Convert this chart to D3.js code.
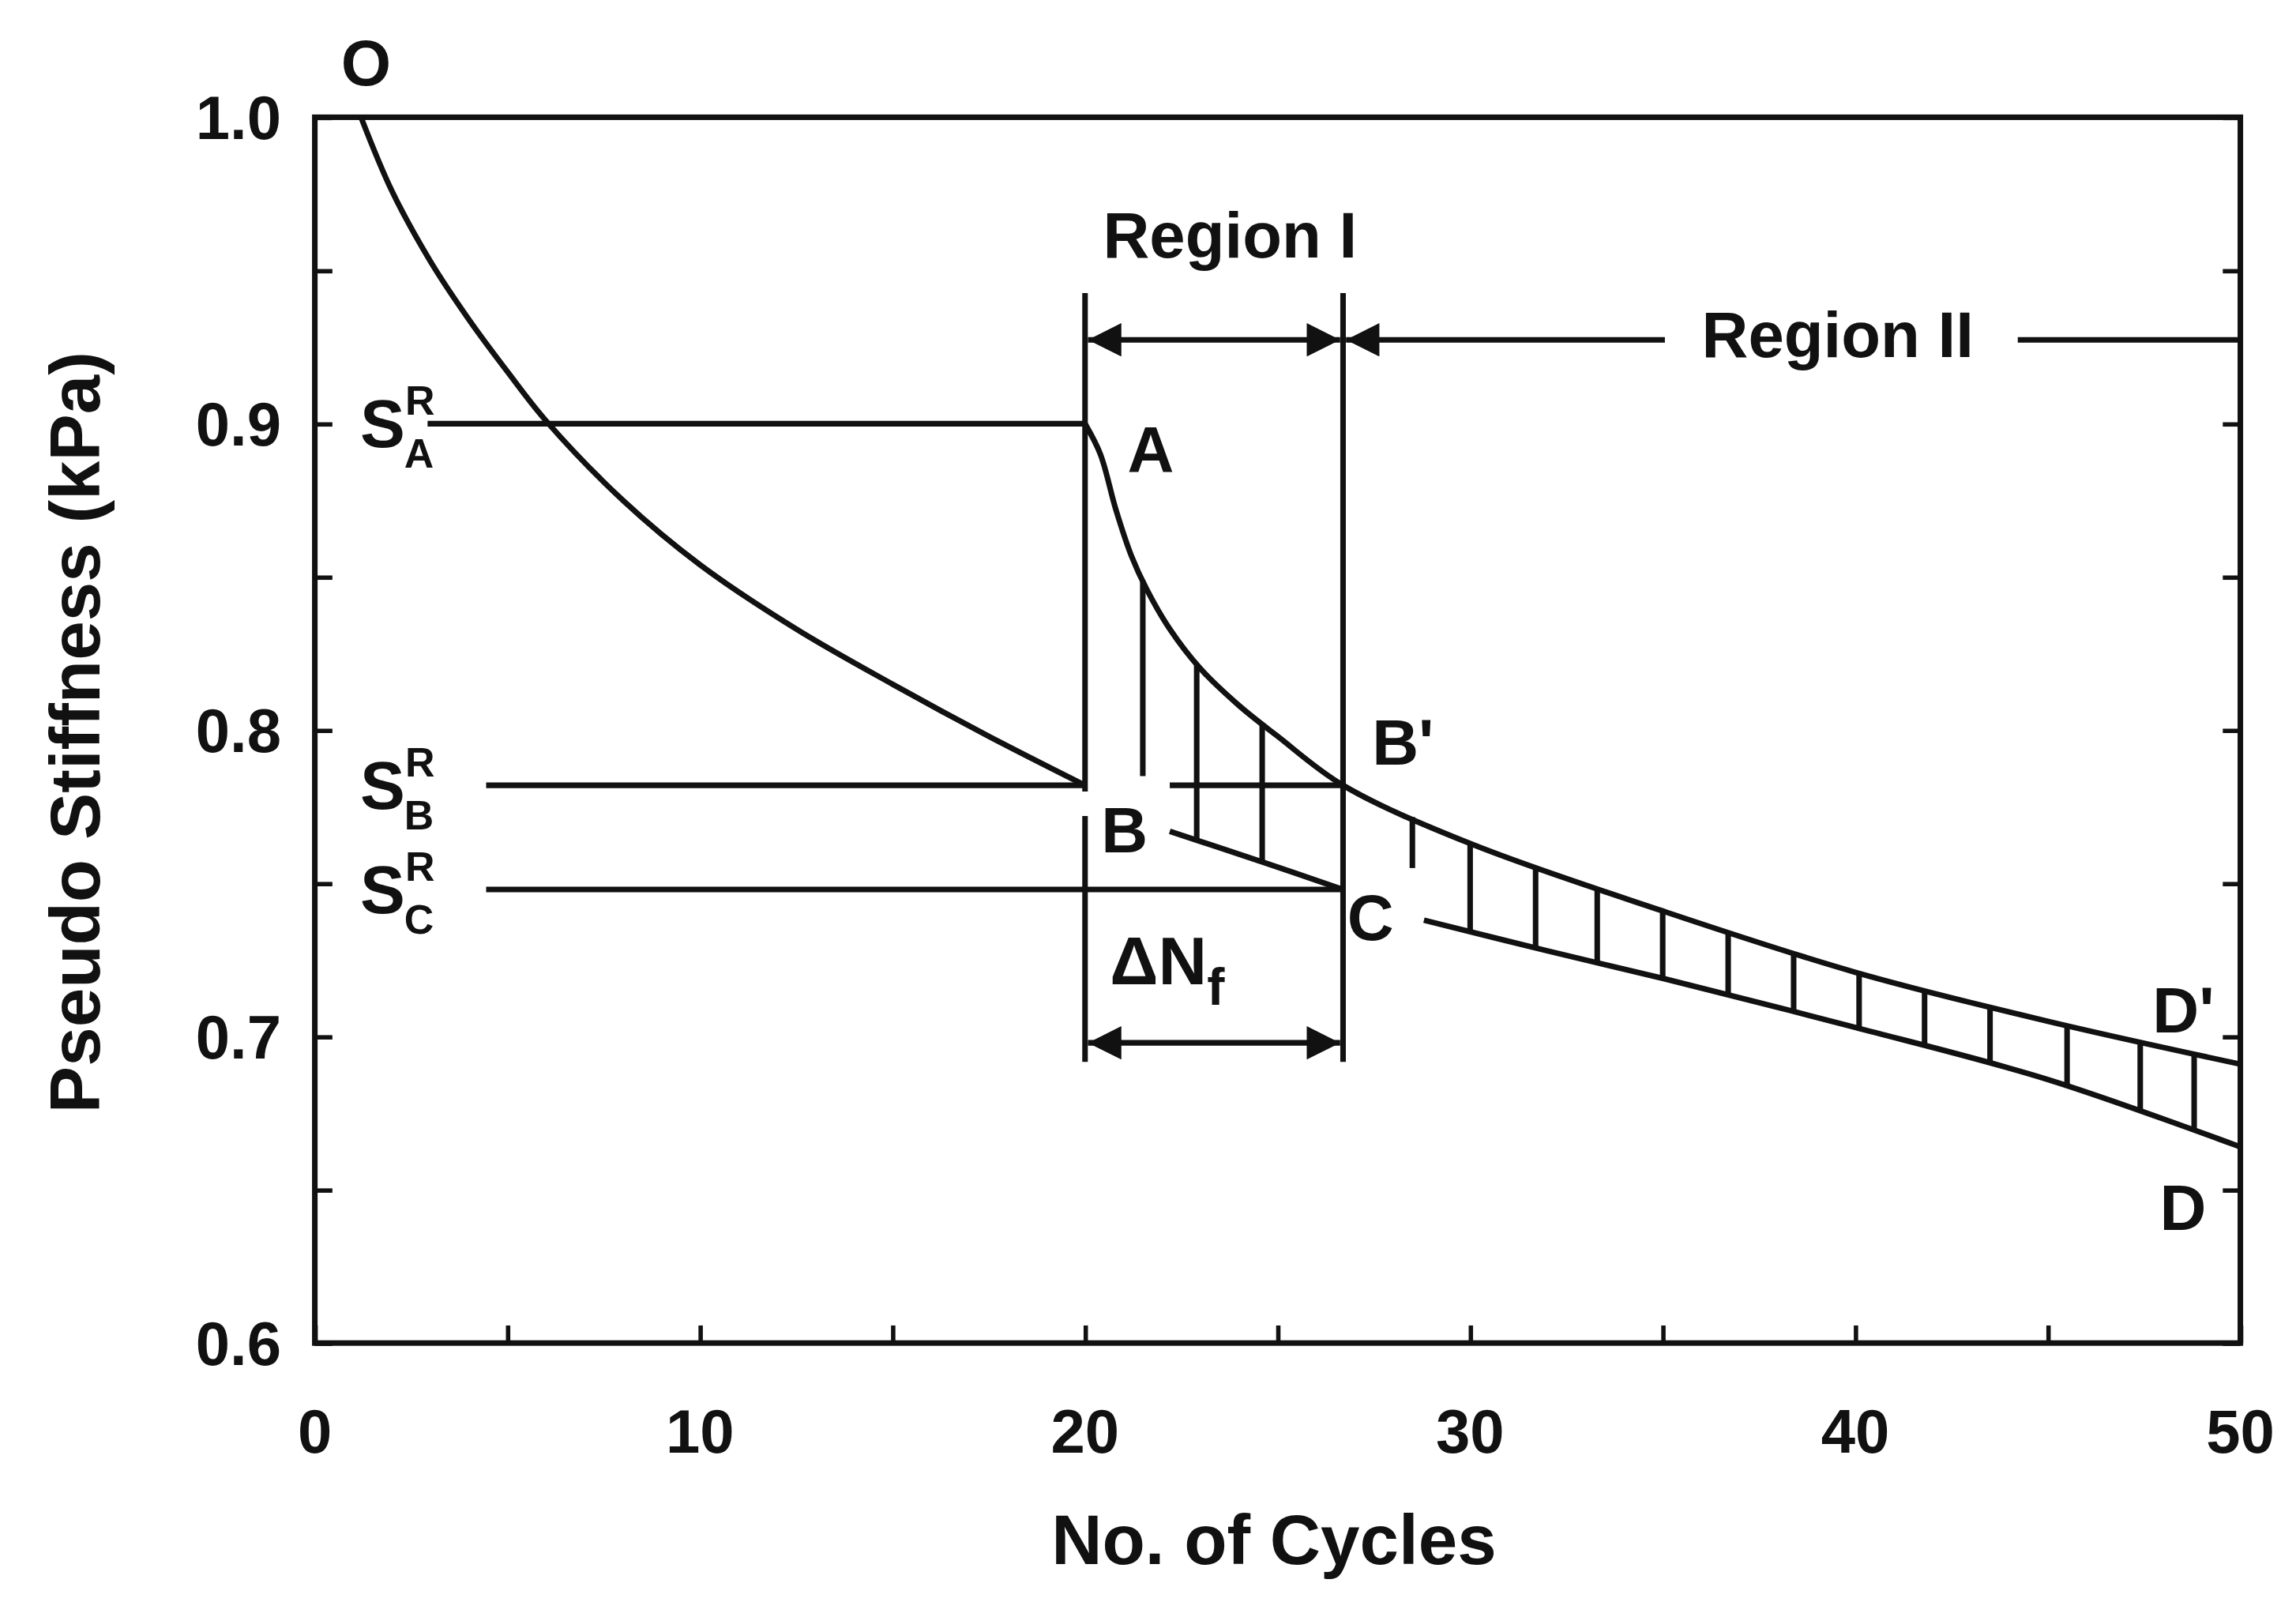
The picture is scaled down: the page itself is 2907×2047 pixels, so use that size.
<!DOCTYPE html>
<html><head><meta charset="utf-8">
<script src="https://cdn.jsdelivr.net/npm/d3@7"></script>
<style>body{margin:0;background:#fff}text{font-family:"Liberation Sans",Arial,sans-serif;font-weight:bold;fill:#111}</style>
</head><body><svg id="c" width="2907" height="2047" viewBox="0 0 1568 1104"></svg>
<script>
var mainCurve = [[1.2,1.0],[2,0.976],[3,0.953],[4,0.934],[5,0.917],[6,0.901],[8,0.875],[10,0.854],[12.5,0.833],[15,0.815],[17.5,0.798],[20,0.782]];
var upperCurve = [[20,0.9],[20.4,0.89],[20.8,0.872],[21.2,0.857],[21.6,0.846],[22.2,0.833],[23,0.82],[24,0.808],[25,0.798],[26.7,0.782],[30,0.763],[35,0.741],[40,0.721],[45,0.705],[50,0.691]];
var lowerB = [[22.2,0.767],[24.6,0.757],[26.7,0.748]];
var lowerC = [[28.8,0.738],[32,0.728],[35,0.719],[40,0.703],[45,0.686],[50,0.664]];
var hatchX = [22.9,24.6,30.0,31.7,33.3,35.0,36.7,38.4,40.1,41.8,43.5,45.5,47.4,48.8];
var xTicks = [0,10,20,30,40,50];
var yTicks = [0.6,0.7,0.8,0.9,1.0];
var sLevels = [["A",0.9],["B",0.782],["C",0.748]];

var svg = d3.select("#c");
var x = d3.scaleLinear().domain([0,50]).range([215,1530]);
var y = d3.scaleLinear().domain([0.6,1.0]).range([917,80]);
var line = d3.line().x(d=>x(d[0])).y(d=>y(d[1])).curve(d3.curveCatmullRom.alpha(0.5));
function at(arr, xv){ // y along a curve, for hatch ends
  for (var i=1;i<arr.length;i++) if (xv<=arr[i][0]){var a=arr[i-1],b=arr[i];return a[1]+(b[1]-a[1])*(xv-a[0])/(b[0]-a[0]);}
  return arr[arr.length-1][1];
}
var g = svg.append("g").attr("stroke","#111").attr("fill","none").attr("stroke-width",3.8);
g.append("rect").attr("x",215).attr("y",80).attr("width",1315).attr("height",837);

// ticks inward
svg.append("g").attr("transform","translate(0,917)").call(d3.axisBottom(x).tickValues(d3.range(0,51,5)).tickSizeInner(-12).tickSizeOuter(0).tickFormat(""));
svg.append("g").attr("transform","translate(215,0)").call(d3.axisLeft(y).tickValues(d3.range(0.6,1.001,0.05)).tickSizeInner(-12).tickSizeOuter(0).tickFormat(""));
svg.append("g").attr("transform","translate(1530,0)").call(d3.axisRight(y).tickValues(d3.range(0.6,1.001,0.05)).tickSizeInner(-12).tickSizeOuter(0).tickFormat(""));
svg.selectAll(".domain").remove();
svg.selectAll(".tick line").attr("stroke","#111").attr("stroke-width",3);

svg.selectAll(".xl").data(xTicks).join("text").attr("x",d=>x(d)).attr("y",992).attr("text-anchor","middle").attr("font-size",42).text(d=>d);
svg.selectAll(".yl").data(yTicks).join("text").attr("x",192).attr("y",d=>y(d)+15).attr("text-anchor","end").attr("font-size",42).text(d=>d.toFixed(1));
svg.append("text").attr("x",870).attr("y",1068).attr("text-anchor","middle").attr("font-size",48).text("No. of Cycles");
svg.append("text").attr("transform","translate(68,500) rotate(-90)").attr("text-anchor","middle").attr("font-size",48).text("Pseudo Stiffness (kPa)");

g.append("path").attr("d",line(mainCurve));
g.append("path").attr("d",line(upperCurve));
g.append("path").attr("d",line(lowerB));
g.append("path").attr("d",line(lowerC));

// horizontal reference lines
g.append("line").attr("x1",292).attr("x2",x(20)).attr("y1",y(0.9)).attr("y2",y(0.9));
g.append("line").attr("x1",332).attr("x2",x(20)).attr("y1",y(0.782)).attr("y2",y(0.782));
g.append("line").attr("x1",x(22.2)).attr("x2",x(26.7)).attr("y1",y(0.782)).attr("y2",y(0.782));
g.append("line").attr("x1",332).attr("x2",x(26.7)).attr("y1",y(0.748)).attr("y2",y(0.748));

// vertical boundaries
g.append("line").attr("x1",x(20)).attr("x2",x(20)).attr("y1",200).attr("y2",y(0.78));
g.append("line").attr("x1",x(20)).attr("x2",x(20)).attr("y1",y(0.772)).attr("y2",725);
g.append("line").attr("x1",x(26.7)).attr("x2",x(26.7)).attr("y1",200).attr("y2",725);

// hatch
g.append("line").attr("x1",x(21.5)).attr("x2",x(21.5)).attr("y1",y(at(upperCurve,21.5))).attr("y2",y(0.785));
g.append("line").attr("x1",x(28.5)).attr("x2",x(28.5)).attr("y1",y(at(upperCurve,28.5))).attr("y2",y(0.755));
hatchX.forEach(function(h){
  var low = h<27 ? lowerB : lowerC;
  g.append("line").attr("x1",x(h)).attr("x2",x(h)).attr("y1",y(at(upperCurve,h))).attr("y2",y(at(low,h)));
});

// arrows
var defs = svg.append("defs");
defs.append("marker").attr("id","ah").attr("viewBox","0 0 10 10").attr("refX",10).attr("refY",5)
  .attr("markerWidth",7).attr("markerHeight",6).attr("markerUnits","strokeWidth").attr("orient","auto-start-reverse")
  .append("path").attr("d","M0,0L10,5L0,10Z").attr("fill","#111").attr("stroke","none");
function arrow(x1,x2,yy,s,e){var l=g.append("line").attr("x1",x1).attr("x2",x2).attr("y1",yy).attr("y2",yy);
  if(s)l.attr("marker-start","url(#ah)"); if(e)l.attr("marker-end","url(#ah)");}
arrow(x(20)+2,x(26.7)-2,232,true,true);
arrow(x(26.7)+2,1137,232,true,false);
arrow(1378,1530,232,false,false);
arrow(x(20)+2,x(26.7)-2,712,true,true);

svg.append("text").attr("x",840).attr("y",176).attr("text-anchor","middle").attr("font-size",44).text("Region I");
svg.append("text").attr("x",1255).attr("y",244).attr("text-anchor","middle").attr("font-size",44).text("Region II");
var dn = svg.append("text").attr("x",758).attr("y",672).attr("font-size",46).text("ΔN");
dn.append("tspan").attr("dy",14).attr("font-size",36).text("f");

var pts = [["O",250,58],["A",770,322],["B",752,582],["B'",937,522],["C",920,642],["D'",1470,705],["D",1475,840]];
svg.selectAll(".pt").data(pts).join("text").attr("x",d=>d[1]).attr("y",d=>d[2]).attr("font-size",44).attr("text-anchor",d=>d[0]=="O"?"middle":"start").text(d=>d[0]);

sLevels.forEach(function(s){
  var t = svg.append("text").attr("x",246).attr("y",y(s[1])+16).attr("font-size",46).text("S");
  t.append("tspan").attr("dy",-22).attr("font-size",28).text("R");
  svg.append("text").attr("x",276).attr("y",y(s[1])+30).attr("font-size",28).text(s[0]);
});
</script></body></html>
